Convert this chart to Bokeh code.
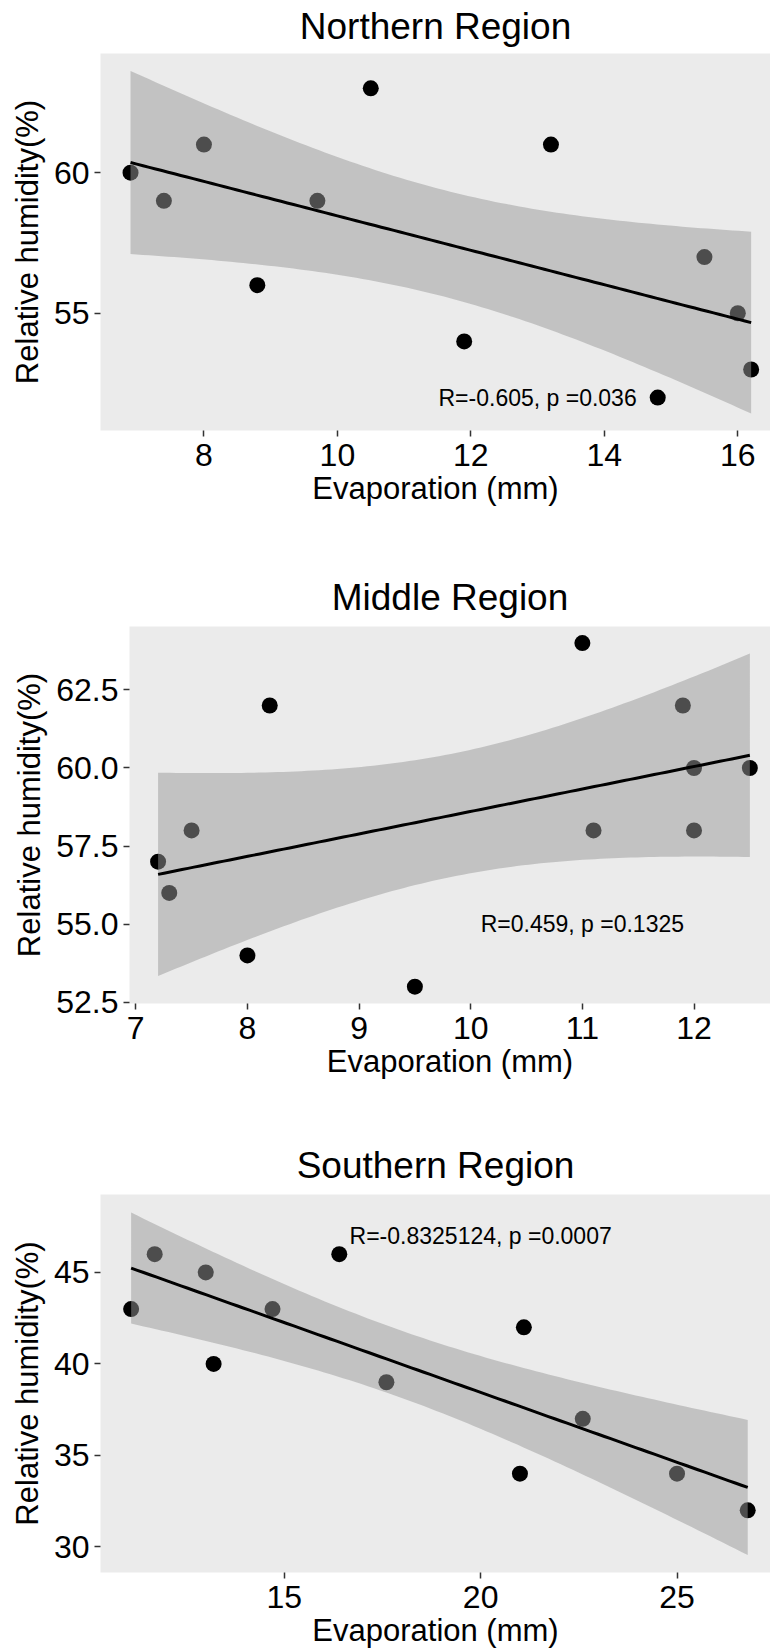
import math
import numpy as np
from bokeh.plotting import figure
from bokeh.models import Range1d, FixedTicker, Label, NumeralTickFormatter
from bokeh.layouts import column
from bokeh.embed import file_html
from bokeh.resources import INLINE

FONT = "Liberation Sans"

# ---------------- data ----------------
north_title = "Northern Region"
north_evap = [6.9, 7.4, 8.0, 8.8, 9.7, 10.5, 11.9, 13.2, 14.8, 15.5, 16.0, 16.2]
north_rh = [60, 59, 61, 56, 59, 63, 54, 61, 52, 57, 55, 53]
north_xticks = [8, 10, 12, 14, 16]
north_yticks = [55, 60]
north_note = "R=-0.605, p =0.036"
north_note_xy = (13, 52)

middle_title = "Middle Region"
middle_evap = [7.2, 7.3, 7.5, 8.0, 8.2, 9.5, 11.0, 11.1, 11.9, 12.0, 12.0, 12.5]
middle_rh = [57, 56, 58, 54, 62, 53, 64, 58, 62, 60, 58, 60]
middle_xticks = [7, 8, 9, 10, 11, 12]
middle_yticks = [52.5, 55.0, 57.5, 60.0, 62.5]
middle_note = "R=0.459, p =0.1325"
middle_note_xy = (11, 55)

south_title = "Southern Region"
south_evap = [11.1, 11.7, 13.0, 13.2, 14.7, 16.4, 17.6, 21.0, 21.1, 22.6, 25.0, 26.8]
south_rh = [43, 46, 45, 40, 43, 46, 39, 34, 42, 37, 34, 32]
south_xticks = [15, 20, 25]
south_yticks = [30, 35, 40, 45]
south_note = "R=-0.8325124, p =0.0007"
south_note_xy = (20, 47)

x_label = "Evaporation (mm)"
y_label = "Relative humidity(%)"


# ---------------- linear fit with 95% confidence band ----------------
def t_quantile(p, df):
    c = math.exp(math.lgamma((df + 1) / 2) - math.lgamma(df / 2)) / math.sqrt(df * math.pi)

    def cdf(t):
        g = np.linspace(0, t, 4001)
        f = c * (1 + g ** 2 / df) ** (-(df + 1) / 2)
        return 0.5 + np.trapezoid(f, g)

    lo, hi = 0.0, 20.0
    for _ in range(80):
        mid = (lo + hi) / 2
        if cdf(mid) < p:
            lo = mid
        else:
            hi = mid
    return (lo + hi) / 2


def fit_band(x, y, n=100):
    x = np.asarray(x, float)
    y = np.asarray(y, float)
    b, a = np.polyfit(x, y, 1)
    xs = np.linspace(x.min(), x.max(), n)
    yhat = a + b * xs
    resid = y - (a + b * x)
    dof = len(x) - 2
    s = np.sqrt(np.sum(resid ** 2) / dof)
    sxx = np.sum((x - x.mean()) ** 2)
    se = s * np.sqrt(1 / len(x) + (xs - x.mean()) ** 2 / sxx)
    t = t_quantile(0.975, dof)
    return xs, yhat, yhat - t * se, yhat + t * se


def make_panel(title, xv, yv, xr, yr, xticks, yticks, yfmt, note, note_xy,
               height, top, bottom, left, title_standoff):
    p = figure(width=770, height=height,
               x_range=Range1d(*xr), y_range=Range1d(*yr),
               output_backend="svg", toolbar_location=None,
               min_border_left=left, min_border_right=0,
               min_border_top=top, min_border_bottom=bottom)
    p.frame_align = False
    p.background_fill_color = "#EBEBEB"
    p.border_fill_color = "white"
    p.outline_line_color = None
    p.grid.visible = False

    p.title.text = title
    p.title.align = "center"
    p.title.vertical_align = "top"
    p.title.offset = 3
    p.title.text_font = FONT
    p.title.text_font_size = "37px"
    p.title.text_font_style = "normal"
    p.title.text_color = "black"
    p.title.standoff = title_standoff

    for ax in (p.xaxis, p.yaxis):
        ax.axis_line_color = None
        ax.major_tick_line_color = "#333333"
        ax.major_tick_line_width = 1.5
        ax.major_tick_in = 0
        ax.major_tick_out = 6
        ax.minor_tick_line_color = None
        ax.major_label_text_font = FONT
        ax.major_label_text_font_size = "32px"
        ax.major_label_text_color = "black"
        ax.axis_label_text_font = FONT
        ax.axis_label_text_font_size = "31px"
        ax.axis_label_text_font_style = "normal"
        ax.axis_label_text_color = "black"
        ax.major_label_standoff = 5

    p.xaxis.major_label_standoff = 7
    p.xaxis.ticker = FixedTicker(ticks=xticks)
    p.yaxis.ticker = FixedTicker(ticks=yticks)
    p.yaxis.formatter = NumeralTickFormatter(format=yfmt)
    p.xaxis.formatter = NumeralTickFormatter(format="0")
    p.xaxis.axis_label = x_label
    p.yaxis.axis_label = y_label
    p.xaxis.axis_label_standoff = 2
    p.yaxis.axis_label_standoff = 6

    xs, yhat, lo, hi = fit_band(xv, yv)
    p.scatter(xv, yv, size=16, fill_color="black", line_color=None)
    p.varea(x=xs, y1=lo, y2=hi, fill_color="#9A9A9A", fill_alpha=0.5)
    p.line(xs, yhat, line_color="black", line_width=3)

    p.add_layout(Label(x=note_xy[0], y=note_xy[1], text=note,
                       text_font=FONT, text_font_size="23px",
                       text_color="black", text_align="center",
                       text_baseline="middle"))
    return p


p1 = make_panel(north_title, north_evap, north_rh, (6.45, 16.49), (50.83, 64.24),
                north_xticks, north_yticks, "0", north_note, north_note_xy,
                height=522, top=53, bottom=92, left=100, title_standoff=10)
p2 = make_panel(middle_title, middle_evap, middle_rh, (6.944, 12.685), (52.46, 64.53),
                middle_xticks, middle_yticks, "0.0", middle_note, middle_note_xy,
                height=578, top=104, bottom=97, left=129, title_standoff=13)
p3 = make_panel(south_title, south_evap, south_rh, (10.32, 27.38), (28.6, 49.26),
                south_xticks, south_yticks, "0", south_note, south_note_xy,
                height=551, top=94, bottom=79, left=100, title_standoff=13)

layout = column(p1, p2, p3, spacing=0)
open("out.html", "w").write(file_html(layout, INLINE))
